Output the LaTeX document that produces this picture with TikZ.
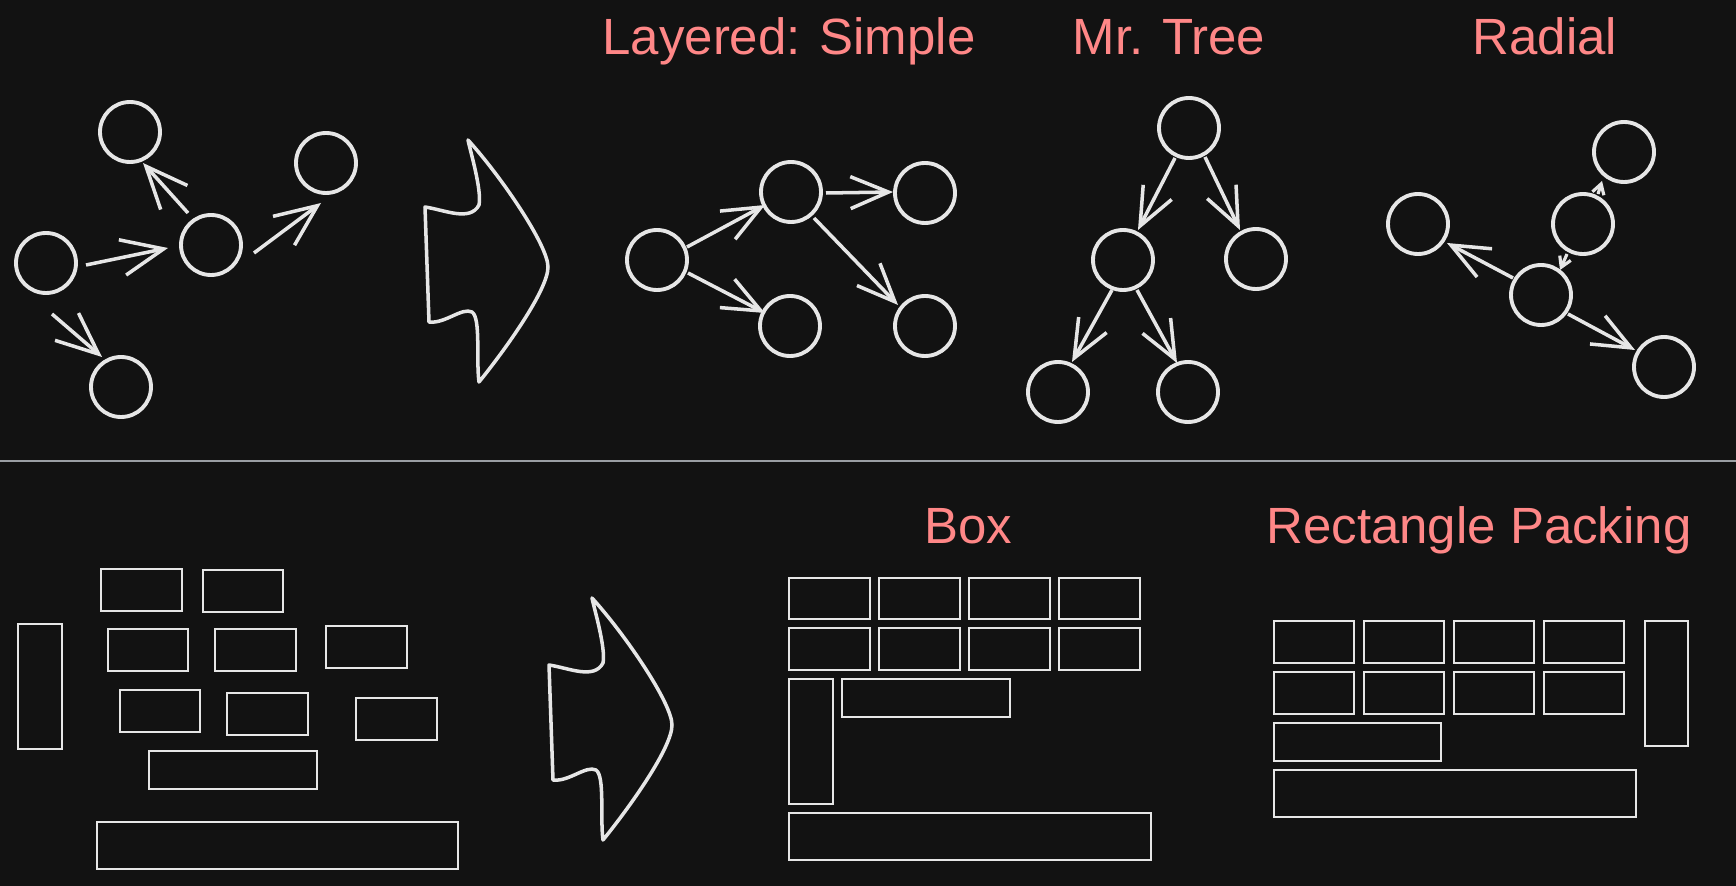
\documentclass[tikz,border=0pt]{standalone}
\usepackage{fontspec}
\setmainfont{Liberation Sans}
\usetikzlibrary{arrows.meta}
\definecolor{canvas}{HTML}{121212}
\definecolor{ink}{HTML}{E6E6E6}
\definecolor{salmon}{HTML}{FF8787}
\definecolor{divider}{HTML}{9A9EA3}
\tikzset{
  vertex/.style={circle,draw=ink,line width=1.1pt,minimum size=6mm,inner sep=0pt},
  arr/.style={color=ink,line width=1pt,-{Straight Barb[length=3.8mm,width=3.2mm]}},
  bighead/.style={-{Straight Barb[length=4.2mm,width=3.6mm]}},
  tinyarr/.style={color=ink,line width=0.9pt,-{Straight Barb[length=1mm,width=1.2mm]}},
  title/.style={text=salmon,font=\fontsize{14.5}{17}\selectfont,anchor=base,inner sep=0pt},
  blk/.style={draw=ink,line width=0.8pt},
  bigarrow/.style={draw=ink,line width=1pt,line join=round},
}
\begin{document}
\begin{tikzpicture}[x=0.1mm,y=-0.1mm]
\path[fill=canvas,use as bounding box] (0,0) rectangle (1736,886);
\draw[divider,line width=0.6pt] (0,461) -- (1736,461);
% titles
\node[title] (layered) at (789,55) {Layered: Simple};
\node[title] (mrtree) at (1169,55) {Mr. Tree};
\node[title] (radial) at (1545,55) {Radial};
\node[title] (box) at (968,543) {Box};
\node[title] (packing) at (1479,543) {Rectangle Packing};
% input graph
\node[vertex] (A) at (130,132) {};
\node[vertex] (B) at (326,163) {};
\node[vertex] (C) at (211,245) {};
\node[vertex] (D) at (46,263) {};
\node[vertex] (E) at (121,387) {};
\path[arr,bighead] ([shift={(-23,-32)}]C.center) edge ([shift={(13,31)}]A.center);
\path[arr,bighead] ([shift={(40,2)}]D.center) edge ([shift={(-43,3)}]C.center);
\path[arr,bighead] ([shift={(43,8)}]C.center) edge ([shift={(-5,40)}]B.center);
\path[arr,bighead] ([shift={(6,51)}]D.center) edge ([shift={(-19,-30)}]E.center);
% big arrows
\foreach \dx/\dy in {0/0,124/458}
  \draw[bigarrow,shift={(\dx,\dy)}] (425,207) .. controls (445,210) and (470,222) .. (479,205)
    .. controls (482,190) and (470,150) .. (468,140)
    .. controls (500,175) and (548,245) .. (548,267)
    .. controls (548,290) and (505,350) .. (479,382)
    .. controls (476,360) and (481,318) .. (472,312)
    .. controls (462,307) and (445,324) .. (429,322) -- cycle;
% layered
\node[vertex] (L1) at (657,260) {};
\node[vertex] (L2) at (791,192) {};
\node[vertex] (L3) at (925,193) {};
\node[vertex] (L4) at (790,326) {};
\node[vertex] (L5) at (925,326) {};
\path[arr] ([shift={(30,-13)}]L1.center) edge ([shift={(-26,13)}]L2.center);
\path[arr] ([shift={(35,1)}]L2.center) edge ([shift={(-32,-1)}]L3.center);
\path[arr] ([shift={(31,13)}]L1.center) edge ([shift={(-25,-13)}]L4.center);
\path[arr] ([shift={(23,26)}]L2.center) edge ([shift={(-27,-21)}]L5.center);
% mr. tree
\node[vertex] (T1) at (1189,128) {};
\node[vertex] (T2) at (1123,260) {};
\node[vertex] (T3) at (1256,259) {};
\node[vertex] (T4) at (1058,392) {};
\node[vertex] (T5) at (1188,392) {};
\path[arr] ([shift={(-14,30)}]T1.center) edge ([shift={(15,-30)}]T2.center);
\path[arr] ([shift={(16,29)}]T1.center) edge ([shift={(-16,-29)}]T3.center);
\path[arr] ([shift={(-11,30)}]T2.center) edge ([shift={(14,-30)}]T4.center);
\path[arr] ([shift={(14,30)}]T2.center) edge ([shift={(-11,-29)}]T5.center);
% radial
\node[vertex] (R1) at (1624,152) {};
\node[vertex] (R2) at (1583,224) {};
\node[vertex] (R3) at (1541,295) {};
\node[vertex] (R4) at (1418,224) {};
\node[vertex] (R5) at (1664,367) {};
\path[tinyarr] ([shift={(15,-30)}]R2.center) edge ([shift={(-22,29)}]R1.center);
\path[tinyarr] ([shift={(-16,30)}]R2.center) edge ([shift={(19,-25)}]R3.center);
\path[arr] ([shift={(-28,-17)}]R3.center) edge ([shift={(29,19)}]R4.center);
\path[arr] ([shift={(27,19)}]R3.center) edge ([shift={(-29,-17)}]R5.center);
% input rectangles
\draw[blk] (18,624) rectangle (62,749);
\draw[blk] (101,569) rectangle (182,611);
\draw[blk] (203,570) rectangle (283,612);
\draw[blk] (108,629) rectangle (188,671);
\draw[blk] (215,629) rectangle (296,671);
\draw[blk] (326,626) rectangle (407,668);
\draw[blk] (120,690) rectangle (200,732);
\draw[blk] (227,693) rectangle (308,735);
\draw[blk] (356,698) rectangle (437,740);
\draw[blk] (149,751) rectangle (317,789);
\draw[blk] (97,822) rectangle (458,869);
% box
\foreach \x in {789,879,969,1059} {
  \draw[blk] (\x,578) rectangle +(81,41);
  \draw[blk] (\x,628) rectangle +(81,42);
}
\draw[blk] (789,679) rectangle (833,804);
\draw[blk] (842,679) rectangle (1010,717);
\draw[blk] (789,813) rectangle (1151,860);
% rectangle packing
\foreach \x in {1274,1364,1454,1544} {
  \draw[blk] (\x,621) rectangle +(80,42);
  \draw[blk] (\x,672) rectangle +(80,42);
}
\draw[blk] (1274,723) rectangle (1441,761);
\draw[blk] (1274,770) rectangle (1636,817);
\draw[blk] (1645,621) rectangle (1688,746);
\end{tikzpicture}
\end{document}
